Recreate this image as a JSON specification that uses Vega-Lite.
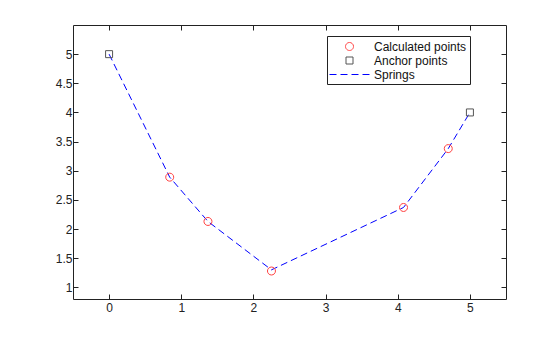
{
  "$schema": "https://vega.github.io/schema/vega-lite/v6.json",
  "autosize": "none",
  "width": 433,
  "height": 274,
  "padding": {"left": 73, "top": 25, "right": 54, "bottom": 38},
  "background": "white",
  "config": {
    "view": {"stroke": "#222", "strokeWidth": 1},
    "font": "Liberation Sans",
    "axis": {"grid": false, "domain": false, "tickSize": -5, "tickColor": "#222", "labelColor": "#222", "labelFont": "Liberation Sans", "labelFontSize": 12, "title": null, "format": "~g"}
  },
  "datasets": {
    "springs": [
      {"x": 0, "y": 5, "series": "Springs"},
      {"x": 0.84, "y": 2.89, "series": "Springs"},
      {"x": 1.37, "y": 2.13, "series": "Springs"},
      {"x": 2.25, "y": 1.3, "series": "Springs"},
      {"x": 4.08, "y": 2.37, "series": "Springs"},
      {"x": 4.7, "y": 3.38, "series": "Springs"},
      {"x": 5, "y": 4, "series": "Springs"}
    ],
    "markers": [
      {"x": 0.84, "y": 2.89, "series": "Calculated points"},
      {"x": 1.37, "y": 2.13, "series": "Calculated points"},
      {"x": 2.25, "y": 1.28, "series": "Calculated points"},
      {"x": 4.08, "y": 2.37, "series": "Calculated points"},
      {"x": 4.7, "y": 3.38, "series": "Calculated points"},
      {"x": 0, "y": 5, "series": "Anchor points"},
      {"x": 5, "y": 4, "series": "Anchor points"}
    ]
  },
  "layer": [
    {
      "data": {"name": "springs"},
      "mark": {"type": "line", "strokeWidth": 1},
      "encoding": {
        "x": {"field": "x", "type": "quantitative", "scale": {"domain": [-0.5, 5.5], "nice": false, "zero": false}, "axis": {"orient": "bottom", "values": [0, 1, 2, 3, 4, 5], "labelPadding": 8}},
        "y": {"field": "y", "type": "quantitative", "scale": {"domain": [0.8, 5.5], "nice": false, "zero": false}, "axis": {"orient": "left", "values": [1, 1.5, 2, 2.5, 3, 3.5, 4, 4.5, 5], "labelPadding": 6}},
        "color": {"field": "series", "type": "nominal", "title": null,
          "scale": {"domain": ["Calculated points", "Anchor points", "Springs"], "range": ["#ff4040", "#555555", "#0000ff"]},
          "legend": {"orient": "none", "legendX": 254, "legendY": 11, "title": null, "fillColor": "white", "strokeColor": "#222", "padding": 3, "labelFontSize": 12, "labelColor": "#111", "labelFont": "Liberation Sans", "rowPadding": 0, "labelOffset": 17, "symbolOffset": 12, "symbolSize": 196, "symbolStrokeWidth": 1}},
        "strokeDash": {"field": "series", "type": "nominal", "title": null,
          "scale": {"domain": ["Calculated points", "Anchor points", "Springs"], "range": [[1, 0], [1, 0], [7, 4]]}}
      }
    },
    {
      "data": {"name": "markers"},
      "mark": {"type": "point", "filled": false, "strokeWidth": 1, "opacity": 1, "size": 196},
      "encoding": {
        "x": {"field": "x", "type": "quantitative", "axis": {"orient": "top", "values": [0, 1, 2, 3, 4, 5], "labels": false}},
        "y": {"field": "y", "type": "quantitative", "axis": {"orient": "right", "values": [1, 1.5, 2, 2.5, 3, 3.5, 4, 4.5, 5], "labels": false}},
        "color": {"field": "series", "type": "nominal", "title": null},
        "shape": {"field": "series", "type": "nominal", "title": null,
          "scale": {"domain": ["Calculated points", "Anchor points", "Springs"], "range": ["M0.571,0A0.571,0.571 0 1,1 -0.571,0A0.571,0.571 0 1,1 0.571,0Z", "M-0.5,-0.5H0.5V0.5H-0.5Z", "M-2.857,0H2.857"]}}
      }
    }
  ],
  "resolve": {"axis": {"x": "independent", "y": "independent"}}
}
